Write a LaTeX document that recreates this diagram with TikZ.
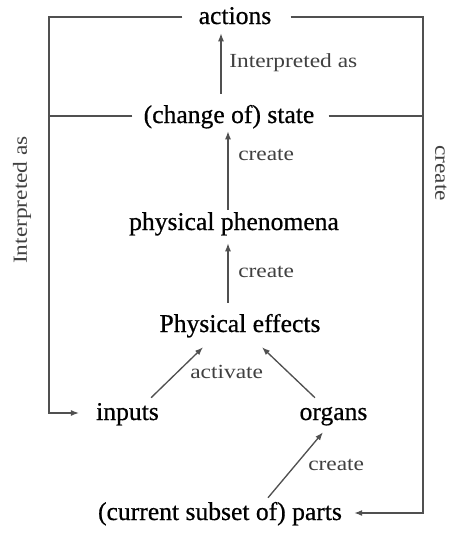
\documentclass[tikz,border=0pt]{standalone}
\usepackage{fontspec}
\setmainfont{Liberation Serif}
\newfontfamily\mainf[FakeBold=0.6]{Liberation Serif}
\newfontfamily\labf[FakeStretch=1.17]{Liberation Serif}
\usetikzlibrary{arrows.meta}
\definecolor{lncol}{HTML}{505050}
\definecolor{labcol}{HTML}{404040}
\begin{document}
\begin{tikzpicture}[x=0.75pt,y=-0.75pt,
  txt/.style={font=\mainf\fontsize{19.2pt}{23pt}\selectfont, inner sep=0pt, text height=10.5pt, text depth=0pt, anchor=base},
  lab/.style={font=\labf\fontsize{15pt}{18pt}\selectfont, inner sep=0pt, text=labcol},
  ln/.style={draw=lncol, line width=1pt},
  arr/.style={ln, -{Latex[length=6pt,width=4.5pt]}}]
\useasboundingbox (0,0) rectangle (452,533);
\coordinate (lx) at (49,0);
\coordinate (rx) at (423,0);
\coordinate (a1) at (221,0);
\coordinate (a2) at (228,0);
% main nodes
\node[txt] (actions) at (235,24) {actions};
\node[txt] (state) at (229,123) {(change of) state};
\node[txt] (phen) at (234,230) {physical phenomena};
\node[txt] (eff) at (240,332) {Physical effects};
\node[txt] (inputs) at (127.5,420) {inputs};
\node[txt] (organs) at (333.5,420) {organs};
\node[txt] (parts) at (220,520) {(current subset of) parts};
% labels
\node[lab, anchor=base west] (l1) at (229,67) {Interpreted as};
\node[lab, anchor=base west] (l2) at (238,160) {create};
\node[lab, anchor=base west] (l3) at (238,277) {create};
\node[lab, anchor=base west] (l4) at (190,378) {activate};
\node[lab, anchor=base west] (l5) at (308,470) {create};
\node[lab, rotate=90, anchor=center] (l6) at (22,200) {Interpreted as};
\node[lab, rotate=-90, anchor=center] (l7) at (441,173) {create};
% frame lines
\draw[arr, shorten <=12pt, shorten >=12.75pt] (actions.west) -- (actions.west -| lx) |- (inputs.west);
\draw[arr, shorten <=14.25pt, shorten >=9pt] (actions.east) -- (actions.east -| rx) |- (parts.east);
\draw[ln, shorten <=8.25pt] (state.west) -- (state.west -| lx);
\draw[ln, shorten <=10.5pt] (state.east) -- (state.east -| rx);
% arrows
\draw[arr, shorten <=11.25pt, shorten >=6.75pt] (state.north -| a1) -- (actions.south -| a1);
\draw[arr, shorten <=4.5pt, shorten >=6pt] (phen.north -| a2) -- (state.south -| a2);
\draw[arr, shorten <=11.25pt, shorten >=9.75pt] (eff.north -| a2) -- (phen.south -| a2);
\draw[arr] ([shift={(-8,-8)}]inputs.north east) -- ([shift={(-37,15)}]eff.south);
\draw[arr] ([shift={(-18.5,-8)}]organs.north) -- ([shift={(22,15)}]eff.south);
\draw[arr] ([shift={(48,-8)}]parts.north) -- ([shift={(-10.5,12)}]organs.south);
\end{tikzpicture}
\end{document}
